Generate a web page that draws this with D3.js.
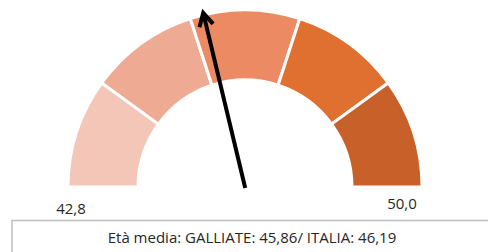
<html>
  <head>
    <style>
      body { margin: 0; background: #fff; }
      text { font-family: "Open Sans", sans-serif; fill: #262626; }
    </style>
  </head>
  <body>
    <div id="gauge">
      <svg width=488 height=252></svg>
    </div>
    <script type="text/javascript" src="https://cdnjs.cloudflare.com/ajax/libs/d3/7.8.5/d3.min.js"></script>
    <script type="text/javascript">
// gauge range and bands (5 equal steps from min to max)
var minVal = 42.8;
var maxVal = 50.0;
var bandStops = [42.8, 44.24, 45.68, 47.12, 48.56, 50.0];
var bandColors = ['#F4C6B8', '#EEAA93', '#EC8A64', '#E0702F', '#C8602A'];
var galliate = 45.86;
var italia = 46.19;
var endLabels = ['42,8', '50,0'];
var caption = 'Età media: GALLIATE: 45,86/ ITALIA: 46,19';

var svg = d3.select('#gauge svg');
var cx = 245, cy = 187;
var outerR = 177, innerR = 107;

var angle = d3.scaleLinear()
    .domain([minVal, maxVal])
    .range([-Math.PI / 2, Math.PI / 2]);

var arc = d3.arc()
    .innerRadius(innerR)
    .outerRadius(outerR);

var g = svg.append('g').attr('transform', 'translate(' + cx + ',' + cy + ')');

// bands
g.selectAll('path.band')
    .data(d3.pairs(bandStops))
    .enter().append('path')
    .attr('class', 'band')
    .attr('d', function(d) { return arc({startAngle: angle(d[0]), endAngle: angle(d[1])}); })
    .attr('fill', function(d, i) { return bandColors[i]; })
    .attr('stroke', '#fff')
    .attr('stroke-width', 3);

// needle (drawn upward, then rotated to the value)
var needleLen = 179;
var needle = g.append('g')
    .attr('transform', 'rotate(' + (angle(galliate) * 180 / Math.PI) + ')');
needle.append('line')
    .attr('x1', 0).attr('y1', 1)
    .attr('x2', 0).attr('y2', -needleLen + 2)
    .attr('stroke', '#000')
    .attr('stroke-width', 4);
needle.append('path')
    .attr('d', 'M-7,' + (-needleLen + 13) + 'L0,' + (-needleLen) + 'L7,' + (-needleLen + 13))
    .attr('fill', 'none')
    .attr('stroke', '#000')
    .attr('stroke-width', 4)
    .attr('stroke-linejoin', 'miter');

// end labels
svg.append('text')
    .attr('x', cx - 174).attr('y', 214)
    .attr('text-anchor', 'middle')
    .style('font-size', '15px')
    .text(endLabels[0]);
svg.append('text')
    .attr('x', cx + 157).attr('y', 209)
    .attr('text-anchor', 'middle')
    .style('font-size', '15px')
    .text(endLabels[1]);

// caption box
svg.append('rect')
    .attr('x', 12).attr('y', 220.5)
    .attr('width', 480).attr('height', 40)
    .attr('fill', '#fff')
    .attr('stroke', '#BFBFBF')
    .attr('stroke-width', 1.5);
svg.append('text')
    .attr('x', 252).attr('y', 243)
    .attr('text-anchor', 'middle')
    .style('font-size', '15px')
    .text(caption);
    </script>
  </body>
</html>
